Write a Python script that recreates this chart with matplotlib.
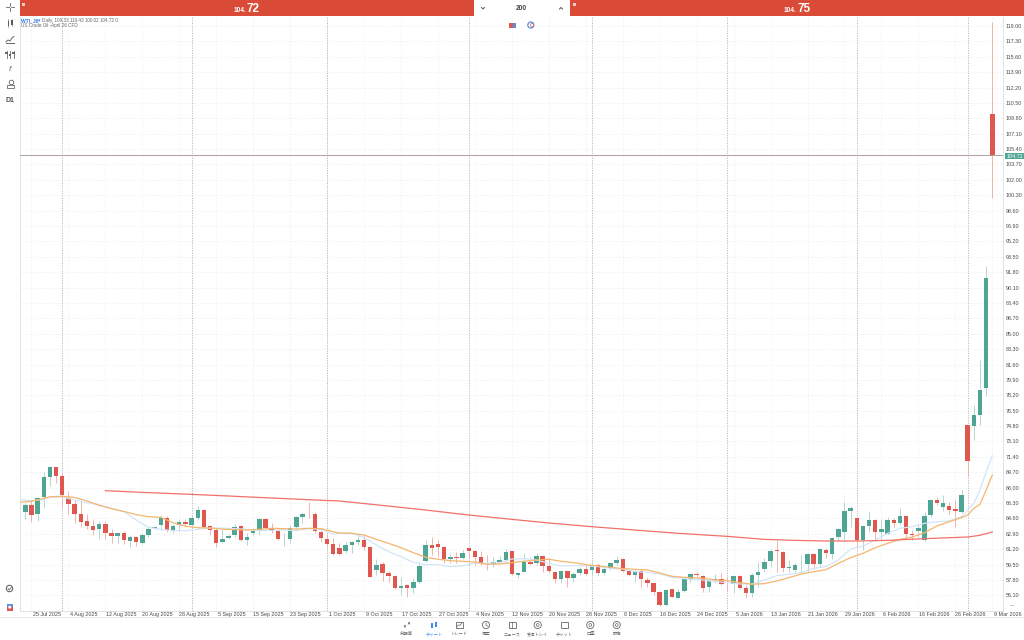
import matplotlib
matplotlib.use('Agg')
import matplotlib.pyplot as plt
from matplotlib.patches import Rectangle, Circle
import numpy as np

plt.rcParams['font.family'] = ['Liberation Sans', 'Noto Sans CJK JP', 'DejaVu Sans']

# daily candles, oldest first
opens = [65.34, 66.07, 65.08, 66.92, 69.20, 70.23, 69.28, 66.81, 66.18, 65.08,
         64.31, 63.76, 63.39, 63.94, 63.02, 62.69, 62.98, 62.14, 62.50, 61.84,
         62.80, 63.50, 63.83, 64.68, 63.24, 63.83, 64.20, 63.90, 64.60, 65.56,
         63.72, 63.28, 61.95, 62.39, 62.73, 63.76, 62.21, 62.95, 63.24, 64.53,
         63.50, 63.24, 62.28, 62.32, 63.61, 64.71, 65.19, 65.04, 63.06, 62.36,
         61.73, 61.37, 60.96, 61.70, 61.99, 62.25, 61.44, 58.94, 59.53, 58.53,
         58.24, 56.95, 57.25, 56.88, 57.54, 59.90, 61.66, 61.77, 61.48, 60.12,
         60.34, 60.19, 61.33, 60.96, 60.34, 59.60, 59.56, 59.82, 60.01, 60.96,
         58.31, 58.72, 59.79, 59.64, 60.45, 59.34, 58.72, 57.95, 58.83, 58.02,
         58.57, 59.01, 58.90, 59.45, 58.61, 59.09, 59.67, 60.12, 58.79, 58.35,
         58.79, 57.83, 57.43, 56.47, 55.04, 56.77, 55.85, 56.61, 57.90, 58.42,
         58.27, 56.98, 57.75, 57.86, 57.39, 57.35, 58.19, 56.94, 56.39, 58.34,
         58.97, 59.89, 61.07, 60.92, 59.08, 58.89, 59.45, 59.52, 60.63, 59.56,
         61.11, 60.70, 62.54, 63.09, 65.45, 64.60, 62.17, 63.76, 64.42, 63.09,
         62.91, 64.38, 64.12, 64.82, 62.84, 63.17, 62.17, 64.93, 66.66, 65.82,
         66.00, 65.60, 65.30, 74.90, 74.77, 76.05, 79.03, 109.33]
highs = [66.26, 66.63, 66.99, 69.68, 70.38, 70.31, 69.57, 67.66, 66.63, 66.55,
         65.08, 64.49, 64.31, 64.31, 63.39, 63.13, 63.20, 62.76, 62.65, 62.95,
         63.61, 63.76, 65.01, 64.86, 63.98, 64.57, 64.49, 64.97, 65.96, 65.63,
         63.87, 63.50, 63.39, 62.84, 63.98, 63.87, 62.95, 63.50, 64.68, 64.60,
         64.12, 63.50, 62.95, 63.87, 64.86, 65.34, 66.37, 65.34, 63.31, 62.84,
         62.39, 61.85, 62.03, 62.14, 62.84, 62.84, 61.50, 60.08, 59.82, 58.83,
         58.35, 58.09, 57.36, 57.98, 59.82, 62.21, 62.51, 62.21, 61.55, 60.82,
         60.93, 61.11, 61.48, 61.11, 61.04, 60.56, 60.37, 60.45, 61.22, 61.00,
         58.72, 60.74, 60.37, 60.74, 60.56, 60.19, 58.79, 58.83, 58.83, 58.64,
         59.27, 59.56, 59.82, 59.64, 59.45, 59.82, 60.45, 60.19, 58.90, 58.98,
         58.98, 58.09, 57.50, 56.62, 56.77, 56.77, 56.77, 57.97, 58.53, 58.71,
         58.34, 57.97, 58.45, 58.53, 58.16, 58.34, 58.34, 57.24, 58.53, 59.74,
         60.18, 61.18, 62.21, 61.03, 60.00, 59.63, 60.55, 60.73, 60.74, 61.29,
         61.29, 62.58, 63.50, 66.37, 65.96, 64.60, 63.87, 65.45, 64.53, 64.49,
         64.79, 64.60, 65.71, 64.97, 63.31, 63.87, 65.34, 66.70, 66.99, 67.18,
         66.44, 66.63, 67.73, 74.95, 77.12, 82.09, 92.48, 119.43]
lows = [64.53, 64.16, 64.31, 65.78, 68.21, 68.54, 65.89, 65.08, 64.12, 63.61,
        63.39, 62.76, 62.36, 62.36, 61.84, 61.84, 61.77, 61.40, 61.55, 61.77,
        62.50, 63.39, 63.31, 63.09, 62.95, 63.24, 63.76, 63.61, 64.42, 63.61,
        62.76, 61.40, 61.84, 62.28, 62.58, 62.14, 61.66, 62.76, 62.76, 63.39,
        62.95, 62.21, 61.58, 61.84, 63.39, 64.05, 64.60, 62.95, 62.03, 61.40,
        60.55, 60.56, 60.74, 60.74, 61.66, 61.11, 58.09, 58.35, 57.69, 57.61,
        56.85, 56.14, 55.96, 56.40, 57.43, 59.82, 60.56, 60.37, 59.71, 59.71,
        59.64, 60.08, 60.08, 59.45, 59.45, 58.90, 59.27, 59.64, 59.64, 58.35,
        58.06, 58.64, 59.45, 59.45, 58.64, 58.53, 57.43, 57.43, 56.99, 57.61,
        58.35, 58.35, 58.35, 58.35, 58.35, 58.90, 59.45, 58.72, 58.24, 57.61,
        56.99, 56.99, 56.14, 54.93, 54.93, 55.88, 55.77, 56.50, 57.61, 58.16,
        56.50, 56.50, 57.50, 57.24, 56.61, 56.32, 56.76, 55.77, 55.95, 57.05,
        58.71, 59.19, 58.71, 58.71, 58.71, 58.71, 58.71, 58.71, 59.01, 59.27,
        60.19, 60.11, 62.10, 62.10, 63.61, 61.29, 61.11, 63.13, 62.10, 62.21,
        62.84, 63.61, 63.87, 62.28, 62.21, 62.58, 62.10, 64.71, 66.07, 65.41,
        65.08, 63.61, 65.23, 69.30, 73.25, 74.90, 78.15, 100.02]
closes = [66.07, 65.01, 66.88, 69.20, 70.23, 69.31, 67.18, 66.18, 65.08, 64.20,
          63.72, 63.31, 63.94, 63.02, 62.65, 62.95, 62.25, 62.54, 61.95, 62.80,
          63.42, 63.68, 64.68, 63.28, 63.76, 64.23, 63.94, 64.60, 65.56, 63.68,
          63.28, 61.92, 62.36, 62.69, 63.61, 62.21, 62.54, 63.24, 64.49, 63.53,
          63.24, 62.32, 62.32, 63.57, 64.71, 65.12, 65.15, 63.17, 62.39, 61.77,
          60.63, 60.63, 61.63, 61.99, 62.25, 61.44, 58.17, 59.49, 58.53, 58.24,
          56.88, 57.17, 56.88, 57.54, 59.34, 61.70, 61.37, 61.48, 60.08, 60.30,
          60.19, 60.82, 60.96, 60.37, 59.67, 59.53, 59.82, 60.01, 60.93, 58.42,
          58.57, 59.82, 59.60, 60.45, 59.38, 58.75, 57.95, 58.83, 58.06, 58.50,
          59.05, 58.50, 59.45, 58.61, 58.98, 59.64, 60.04, 58.83, 58.35, 58.75,
          57.91, 57.50, 56.47, 55.04, 56.66, 55.92, 56.47, 57.86, 58.42, 58.38,
          56.87, 57.68, 57.86, 57.39, 57.31, 58.27, 56.87, 56.35, 58.31, 58.71,
          59.78, 61.03, 60.95, 59.08, 59.19, 59.41, 59.48, 60.62, 59.56, 61.22,
          60.74, 62.47, 63.42, 65.41, 65.71, 62.21, 63.79, 64.42, 63.06, 63.39,
          64.38, 64.12, 64.82, 62.84, 62.76, 63.50, 64.86, 66.63, 66.26, 66.26,
          65.56, 65.38, 67.21, 70.93, 76.02, 78.80, 91.19, 104.72]

# moving averages, read every couple of bars
orange_idx = [0, 2, 4, 5, 7, 9, 11, 13, 15, 17, 19, 21, 23, 25, 27, 29, 31, 33, 35, 37,
              39, 41, 43, 45, 47, 49, 51, 52, 54, 56, 58, 60, 62, 64, 66, 68, 70, 72, 74, 76,
              78, 80, 82, 84, 86, 88, 90, 92, 94, 96, 98, 100, 102, 104, 106, 108, 111, 113, 115, 117,
              119, 121, 123, 125, 127, 129, 131, 133, 135, 137, 139, 141, 143, 145, 147, 149, 151, 153, 154, 155,
              156, 157, 158]
orange_ma = [66.37, 66.48, 66.81, 66.99, 67.03, 66.92, 66.52, 66.04, 65.67, 65.37, 65.01, 64.79, 64.71, 64.12, 63.72, 63.57, 63.53, 63.42, 63.35, 63.31,
             63.39, 63.50, 63.46, 63.42, 63.50, 63.46, 63.13, 62.98, 62.95, 62.76, 62.28, 61.84, 61.36, 60.81, 60.30, 60.08, 59.93, 59.86, 59.78, 59.52,
             59.56, 59.71, 59.86, 60.00, 60.08, 59.86, 59.71, 59.49, 59.34, 59.19, 59.05, 58.97, 58.90, 58.57, 58.20, 58.09, 57.98, 57.79, 57.72, 57.50,
             57.32, 57.39, 57.68, 58.05, 58.46, 58.71, 58.93, 59.63, 60.26, 60.74, 61.36, 61.84, 62.28, 62.54, 63.02, 63.76, 64.23, 64.68, 64.97, 65.71,
             66.15, 67.73, 69.39]
blue_idx = [0, 2, 4, 5, 7, 9, 11, 13, 15, 17, 19, 21, 23, 25, 27, 29, 31, 33, 35, 37,
            39, 41, 43, 45, 47, 49, 51, 52, 54, 56, 58, 60, 62, 64, 66, 68, 70, 72, 74, 76,
            78, 80, 82, 84, 86, 88, 90, 92, 94, 96, 98, 100, 102, 104, 106, 108, 111, 113, 115, 117,
            119, 121, 123, 125, 127, 129, 131, 133, 135, 137, 139, 141, 143, 145, 147, 149, 151, 153, 155, 156,
            157, 158]
blue_ma = [66.66, 66.55, 66.70, 66.92, 66.96, 66.63, 66.33, 66.11, 65.71, 65.34, 64.42, 63.61, 63.39, 63.24, 63.24, 63.39, 63.53, 63.53, 63.46, 63.39,
           63.24, 63.28, 63.31, 63.24, 63.46, 63.39, 62.87, 62.95, 62.95, 62.50, 61.66, 60.92, 60.37, 59.74, 59.49, 59.49, 59.27, 59.34, 59.67, 59.63,
           59.71, 60.11, 60.15, 60.00, 59.63, 59.34, 59.38, 59.34, 59.27, 59.08, 59.01, 58.71, 58.64, 58.46, 58.09, 57.94, 57.79, 57.61, 57.50, 57.35,
           57.35, 57.79, 58.27, 58.42, 58.60, 59.08, 59.27, 60.00, 61.22, 61.55, 62.21, 62.95, 63.50, 63.68, 64.05, 64.23, 64.31, 64.79, 66.26, 67.73,
           69.75, 71.52]
red_idx = [14, 20, 28, 34, 40, 46, 52, 60, 66, 73, 80, 86, 93, 100, 107, 115, 121, 126, 131, 136, 141, 147, 154, 156, 158]
red_ma = [67.66, 67.47, 67.25, 67.07, 66.88, 66.70, 66.52, 65.96, 65.52, 64.97, 64.49, 64.09, 63.68, 63.31, 62.95, 62.61, 62.28, 62.17, 62.10, 62.10,
          62.17, 62.36, 62.54, 62.73, 63.09]

date_labels = ['25 Jul 2025', '4 Aug 2025', '12 Aug 2025', '20 Aug 2025', '28 Aug 2025', '5 Sep 2025',
               '15 Sep 2025', '23 Sep 2025', '1 Oct 2025', '9 Oct 2025', '17 Oct 2025', '27 Oct 2025',
               '4 Nov 2025', '12 Nov 2025', '20 Nov 2025', '28 Nov 2025', '8 Dec 2025', '16 Dec 2025',
               '24 Dec 2025', '5 Jan 2026', '13 Jan 2026', '21 Jan 2026', '29 Jan 2026', '6 Feb 2026',
               '16 Feb 2026', '26 Feb 2026', '9 Mar 2026']
period_bars = [7, 28, 50, 73, 93, 115, 136, 154]
price_ticks = [119.0 - 1.7 * i for i in range(38)]
bid = 104.72
ask = 104.75
nav_labels = ['気配値', 'チャート', 'トレード', '履歴', 'ニュース', '受信トレイ', 'チャット', '口座', '設定']

GREEN = '#4fa594'
RED = '#e0574f'
W, H = 1024, 640
fig = plt.figure(figsize=(W / 100, H / 100), dpi=100, facecolor='white')

# main axes lined up with the chart frame
left, right, top, bottom = 19.7, 1003.0, 16.5, 610.7
ax = fig.add_axes([left / W, 1 - bottom / H, (right - left) / W, (bottom - top) / H])

x = np.arange(1, len(opens) + 1)
o, h, l, c = map(np.array, (opens, highs, lows, closes))
up = c >= o

for p in price_ticks:
    ax.axhline(p, color='#e4eeeb', lw=0.5, ls=(0, (1.5, 2)), zorder=0)
for b in np.arange(2, 160, 6):
    ax.axvline(b, color='#e4eeeb', lw=0.5, ls=(0, (1.5, 2)), zorder=0)
for b in period_bars:
    ax.axvline(b, color='#b4b4b4', lw=0.6, ls=(0, (1.5, 1.5)), zorder=1)

ax.vlines(x[up], l[up], h[up], color='#b5d8d1', lw=0.7, zorder=2)
ax.vlines(x[~up], l[~up], h[~up], color='#f2b3ae', lw=0.7, zorder=2)
ax.bar(x[up], (c - o)[up], bottom=o[up], width=0.72, color=GREEN, lw=0, zorder=3)
ax.bar(x[~up], (o - c)[~up], bottom=c[~up], width=0.72, color=RED, lw=0, zorder=3)

ax.plot(blue_idx, blue_ma, color='#d3e5f8', lw=0.9, zorder=4)
ax.plot(orange_idx, orange_ma, color='#f5b56e', lw=0.9, zorder=5)
ax.plot(red_idx, red_ma, color='#f2706a', lw=0.9, zorder=5)

ax.axhline(bid, color='#9a9a9a', lw=0.7, zorder=6)
ax.axhline(ask, color='#e8b0ac', lw=0.4, ls=(0, (1.5, 1.5)), zorder=6)

ax.set_yticks(price_ticks)
ax.set_yticklabels([f'{p:.2f}' for p in price_ticks], fontsize=3.9, color='#4a4a4a')
ax.yaxis.tick_right()
ax.tick_params(axis='both', length=0, pad=2.0)
ax.set_xticks([])

# set_xticks widens the view, so the limits come last
step = (992.3 - 25.3) / 157
ax.set_xlim(1 - (25.3 - left) / step, 158 + (right - 992.3) / step)
scale = (595.3 - 26) / 62.9
ax.set_ylim(119 - (bottom - 26) / scale, 119 + (26 - top) / scale)

# the last date sits past the frame, so the dates are placed by hand
label_y = -(614.7 - bottom) / (bottom - top)
for i, lab in enumerate(date_labels):
    ax.text(4.5 + 6 * i, label_y, lab, transform=ax.get_xaxis_transform(), fontsize=3.9, color='#4a4a4a',
            ha='center', va='center', clip_on=False)

ax.spines['top'].set_visible(False)
for s in ['left', 'right', 'bottom']:
    ax.spines[s].set_color('#dfe3e6')
    ax.spines[s].set_linewidth(0.7)

# overlay in pixels for the terminal chrome
ui = fig.add_axes([0, 0, 1, 1], facecolor='none')
ui.set_xlim(0, W)
ui.set_ylim(H, 0)
ui.axis('off')

ui.add_patch(Rectangle((19.5, 0), 454.5, 16.3, color='#d94b37', lw=0))
ui.add_patch(Rectangle((570, 0), 454, 16.3, color='#d94b37', lw=0))
ui.add_patch(Rectangle((22, 2.5), 3, 3, color='#f4c9c2', lw=0))
ui.add_patch(Rectangle((573, 2.5), 3, 3, color='#f4c9c2', lw=0))
for xs, price in ((246.5, bid), (797, ask)):
    head, tail = f'{price:.2f}'.split('.')
    ui.text(xs, 12, head + '.', color='white', fontsize=4.8, ha='right', va='baseline', fontweight='bold')
    ui.text(xs, 12, tail, color='white', fontsize=8.5, ha='left', va='baseline', fontweight='bold')
ui.text(521.5, 8.5, '200', fontsize=4.8, color='#444444', ha='center', va='center', fontweight='bold')
ui.plot([481.5, 483, 484.5], [7.5, 9, 7.5], color='#555555', lw=0.7)
ui.plot([559.5, 561, 562.5], [9, 7.5, 9], color='#555555', lw=0.7)

ui.text(21, 20.4, 'WTI_J6', fontsize=3.6, color='#3b78e7', va='center', fontweight='bold')
ui.text(37.5, 20.4, '▾', fontsize=3.6, color='#3b78e7', va='center', family=['DejaVu Sans'])
ui.text(42, 20.4, 'Daily, 109.33 119.43 100.02 104.72 0', fontsize=3.35, color='#666666', va='center')
ui.text(21, 25.8, 'US Crude Oil -April 26 CFD', fontsize=3.35, color='#666666', va='center')

# small indicators at the top of the chart
ui.add_patch(Rectangle((509, 22.5), 3.8, 5, color='#e0574f', lw=0))
ui.add_patch(Rectangle((512.5, 22.5), 3.8, 5, color='#5b8fd9', lw=0))
ui.add_patch(Circle((530.8, 25), 3, fc='white', ec='#5b8fd9', lw=0.9))
ui.add_patch(Circle((532, 25), 1.6, fc='white', ec='#e0574f', lw=0.5))

# bid tag on the price axis
ui.add_patch(Rectangle((1005, 153.4), 19, 5.4, color=GREEN, lw=0))
ui.text(1014.5, 156.1, f'{bid:.2f}', fontsize=3.9, color='white', ha='center', va='center')
ui.text(1012, 604, '...', fontsize=5, color='#666666', ha='center', va='center')

# left toolbar
ic = '#666666'
ui.plot([10, 10], [3, 6], color=ic, lw=0.6)
ui.plot([10, 10], [8, 11], color=ic, lw=0.6)
ui.plot([6, 9], [7, 7], color=ic, lw=0.6)
ui.plot([11, 14], [7, 7], color=ic, lw=0.6)
ui.add_patch(Rectangle((7.5, 20.5), 1.6, 5, color='#555555', lw=0))
ui.add_patch(Rectangle((11, 20), 1.6, 4.5, color='#555555', lw=0))
ui.plot([8.3, 8.3], [19, 27], color=ic, lw=0.4)
ui.plot([11.8, 11.8], [18.5, 26], color=ic, lw=0.4)
ui.plot([6, 8, 10, 12, 14], [42, 40, 41, 38, 36.5], color=ic, lw=0.7)
ui.plot([6, 14], [42.5, 42.5], color=ic, lw=0.7)
for sx, sy in ((6.5, 53), (10, 55), (13.5, 53)):
    ui.plot([sx, sx], [50.5, 58], color=ic, lw=0.6)
    ui.add_patch(Rectangle((sx - 1.2, sy - 0.7), 2.4, 1.4, color=ic, lw=0))
ui.text(10, 69.5, 'f', fontsize=6, style='italic', color=ic, ha='center', va='center')
ui.add_patch(Circle((11.5, 82.5), 2.3, fc='none', ec=ic, lw=0.6))
ui.add_patch(Rectangle((6.5, 84.5), 7, 3.5, fc='none', ec=ic, lw=0.6))
ui.text(10, 100, 'D1', fontsize=5, color='#555555', ha='center', va='center', fontweight='bold')
ui.add_patch(Circle((9.5, 588.5), 3.2, fc='none', ec=ic, lw=0.8))
ui.plot([8, 9.3, 11.2], [588.5, 590, 587.5], color=ic, lw=0.6)
ui.add_patch(Rectangle((6.5, 604), 6.5, 6.5, color='#e0574f', lw=0))
ui.add_patch(Rectangle((6.5, 604), 6.5, 3, color='#5b8fd9', lw=0))
ui.add_patch(Circle((9.75, 607.2), 1.5, color='white', lw=0))

# bottom navigation
ui.plot([0, W], [617, 617], color='#e4e4e4', lw=0.6)
nav_x = [406.7, 434, 459.3, 486, 512.3, 537.7, 564.3, 590.3, 616.7]
for i, (nx, lab) in enumerate(zip(nav_x, nav_labels)):
    col = '#3b8cf0' if i == 1 else '#666666'
    ui.text(nx, 634.3, lab, fontsize=3.1, color=col, ha='center', va='center')
    if i == 0:
        ui.annotate('', (405, 628), (405, 622.5), arrowprops=dict(arrowstyle='->', lw=0.5, color=col, mutation_scale=3))
        ui.annotate('', (409, 621.5), (409, 627), arrowprops=dict(arrowstyle='->', lw=0.5, color=col, mutation_scale=3))
    elif i == 1:
        ui.add_patch(Rectangle((nx - 3.2, 622.5), 2.4, 5, color=col, lw=0))
        ui.add_patch(Rectangle((nx + 0.8, 622), 2.4, 5, color=col, lw=0))
    elif i in (2, 4, 6):
        ui.add_patch(Rectangle((nx - 3.5, 621.5), 7, 6.5, fc='none', ec=col, lw=0.6))
        if i == 2:
            ui.plot([nx - 2.5, nx - 0.5, nx + 0.8, nx + 2.5], [626.5, 624.8, 625.5, 623], color=col, lw=0.5)
        if i == 4:
            ui.plot([nx - 0.5, nx - 0.5], [621.5, 628], color=col, lw=0.5)
    else:
        ui.add_patch(Circle((nx, 625), 3.6, fc='none', ec=col, lw=0.6))
        if i == 3:
            ui.plot([nx, nx, nx + 2], [623, 625.2, 626.2], color=col, lw=0.5)
        if i in (5, 7, 8):
            ui.add_patch(Circle((nx, 625), 1.4, fc='none', ec=col, lw=0.5))

fig.savefig('out.png', dpi=100, facecolor='white')
